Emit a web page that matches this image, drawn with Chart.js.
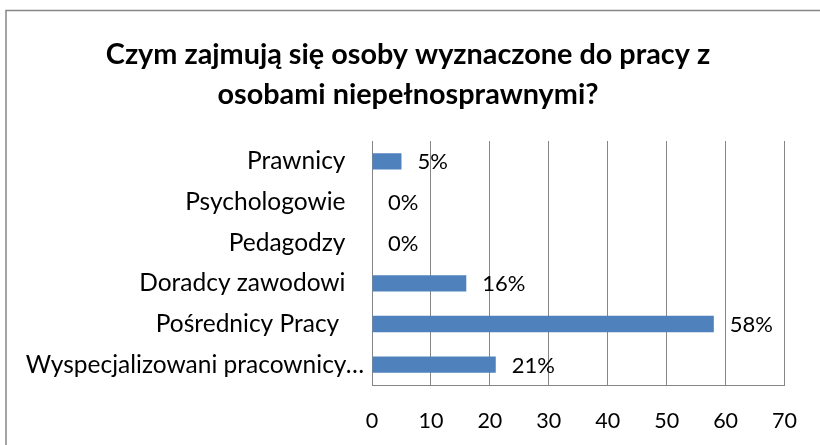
<!DOCTYPE html>
<html>
<head>
<meta charset="utf-8">
<script src="https://cdn.jsdelivr.net/npm/chart.js@4.4.0/dist/chart.umd.min.js"></script>
<style>
  html, body { margin: 0; padding: 0; background: #fff; }
  #wrap { width: 820px; height: 445px; position: relative; }
</style>
</head>
<body>
<div id="wrap"><canvas id="CHART" width="820" height="445"></canvas></div>
<script>
var categories = ["Prawnicy", "Psychologowie", "Pedagodzy", "Doradcy zawodowi", "Pośrednicy Pracy ", "Wyspecjalizowani pracownicy…"];
var values = [5, 0, 0, 16, 58, 21];
var valueLabels = ["5%", "0%", "0%", "16%", "58%", "21%"];
var titleLines = ["Czym zajmują się osoby wyznaczone do pracy z", "osobami niepełnosprawnymi?"];

var fontName = "Lato, 'Open Sans', sans-serif";

// frame round the chart + the title (Excel centres it on the whole frame)
var framePlugin = {
    id: 'frame',
    beforeDraw: function (chart) {
        var c = chart.ctx;
        c.save();
        c.strokeStyle = '#868686';
        c.lineWidth = 1.5;
        c.strokeRect(6, 10.5, 900, 600);
        c.font = "bold 28.8px " + fontName;
        c.fillStyle = '#000';
        c.textAlign = 'center';
        c.textBaseline = 'middle';
        titleLines.forEach(function (line, i) {
            c.fillText(line, 408, 55 + i * 40);
        });
        c.restore();
    }
};

// percent labels right of each bar
var valueLabelPlugin = {
    id: 'valueLabels',
    afterDatasetsDraw: function (chart) {
        var c = chart.ctx;
        var meta = chart.getDatasetMeta(0);
        c.save();
        c.font = "22px " + fontName;
        c.fillStyle = '#000';
        c.textAlign = 'left';
        c.textBaseline = 'middle';
        meta.data.forEach(function (bar, i) {
            c.fillText(valueLabels[i], bar.x + 16, bar.y + 1);
        });
        c.restore();
    }
};

var ctx = document.getElementById('CHART').getContext('2d');
var chart = new Chart(ctx, {
    type: 'bar',
    data: {
        labels: categories,
        datasets: [
            {
                data: values,
                backgroundColor: '#4F81BD',
                borderWidth: 0,
                barPercentage: 0.4,
                categoryPercentage: 1
            }
        ]
    },
    options: {
        indexAxis: 'y',
        responsive: false,
        animation: false,
        layout: { padding: { left: 0, right: 34, top: 141, bottom: 0 } },
        plugins: {
            legend: { display: false },
            tooltip: { enabled: false },
            title: { display: false }
        },
        scales: {
            x: {
                min: 0,
                max: 70,
                ticks: {
                    stepSize: 10,
                    color: '#000',
                    padding: 23,
                    font: { family: fontName, size: 21.5 }
                },
                grid: { color: '#868686', drawTicks: false },
                border: { color: '#868686' },
                afterFit: function (scale) { scale.height = 60; }
            },
            y: {
                ticks: {
                    color: '#000',
                    padding: 8,
                    autoSkip: false,
                    font: { family: fontName, size: 24.5 },
                    // the truncated long label sits closer to the axis, like in Excel
                    callback: function (value, index) {
                        var label = categories[index];
                        return index === categories.length - 1 ? label : label + '\u2002 ';
                    }
                },
                grid: { display: false, drawTicks: false },
                border: { color: '#868686' },
                afterFit: function (scale) { scale.width = 372; }
            }
        }
    },
    plugins: [framePlugin, valueLabelPlugin]
});
</script>
</body>
</html>
